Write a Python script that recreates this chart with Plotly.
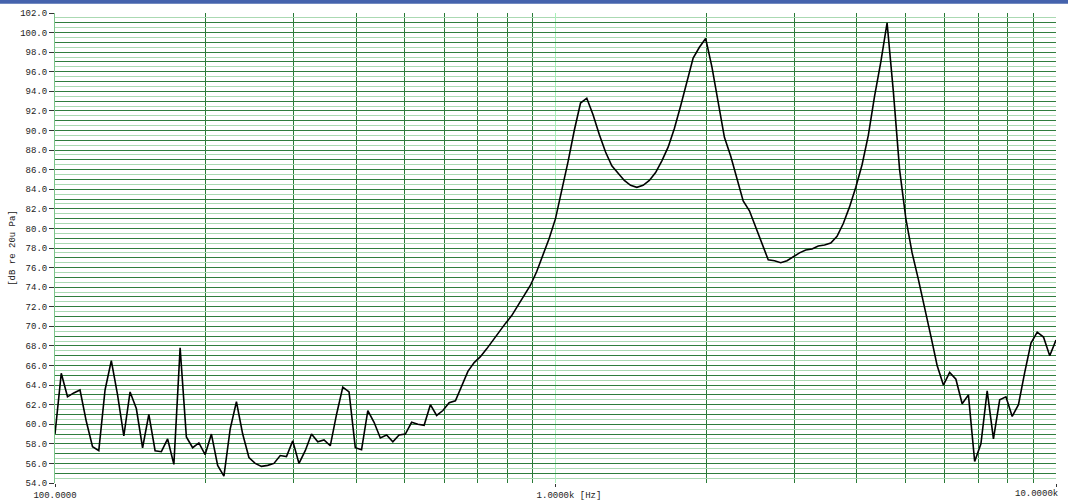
import numpy as np
import plotly.graph_objects as go

# analyser frequency bins (80 per decade, 100 Hz .. 10 kHz)
freq_hz = np.logspace(2, 4, 161)

level_db = [
    # 100-200 Hz
    59.0, 65.2, 62.8, 63.2, 63.5, 60.3, 57.7, 57.3, 63.5, 66.5,
    63.0, 58.8, 63.3, 61.6, 57.6, 61.0, 57.3, 57.2, 58.5, 55.9,
    67.8, 58.7, 57.6, 58.1, 56.9,
    # 200-300 Hz
    59.0, 55.8, 54.7, 59.5, 62.3, 59.0, 56.6, 56.0, 55.7, 55.8,
    56.0, 56.8, 56.7, 58.3,
    # 300-400 Hz
    56.0, 57.3, 59.0, 58.2, 58.4, 57.8, 61.0, 63.8, 63.3, 57.6,
    # 400-500 Hz
    57.4, 61.4, 60.2, 58.6, 58.9, 58.2, 58.9, 59.0,
    # 500-600 Hz
    60.2, 60.0, 59.9, 62.0, 60.9, 61.4,
    # 600-700 Hz
    62.2, 62.4, 64.0, 65.4, 66.3, 66.9,
    # 700 Hz-1 kHz
    67.7, 68.6, 69.5, 70.3, 71.1, 72.1, 73.2, 74.2, 75.6, 77.3,
    79.0, 81.0,
    # 1-2 kHz
    83.8, 86.8, 90.0, 92.8, 93.3, 91.6, 89.6, 87.8, 86.4, 85.6,
    84.9, 84.4, 84.2, 84.4, 84.9, 85.7, 86.9, 88.3, 90.2, 92.5,
    95.0, 97.4, 98.5, 99.4,
    # 2-5 kHz
    96.5, 92.8, 89.3, 87.4, 85.2, 82.8, 81.8, 80.2, 78.6, 76.8,
    76.7, 76.5, 76.7, 77.1, 77.5, 77.8, 77.9, 78.2, 78.3, 78.5,
    79.2, 80.5, 82.2, 84.2, 86.5, 89.5, 93.5, 97.0, 101.0, 94.0,
    86.0,
    # 5-10 kHz
    81.0, 77.5, 74.8, 72.0, 69.0, 66.0, 64.0, 65.3, 64.6, 62.1,
    63.0, 56.2, 58.0, 63.4, 58.5, 62.5, 62.8, 60.8, 62.0, 65.3,
    68.3, 69.4, 68.9, 67.0, 68.6,
]

x_tick_vals = [100, 1000, 10000]
x_tick_text = ["100.0000",
               "\u00a0" * 5 + "1.0000k [Hz]",
               ""]
x_end_label = "10.0000k"
x_minor_vals = [200, 300, 400, 500, 600, 700, 800, 900,
                2000, 3000, 4000, 5000, 6000, 7000, 8000, 9000]
y_tick_vals = list(range(54, 103, 2))
y_tick_text = ["%.1f" % v for v in y_tick_vals]
y_fine_vals = list(range(54, 103, 1))

DARK = "#2f7d3d"
LIGHT = "#aad9b2"
FONT = "Liberation Mono"

fig = go.Figure()
fig.add_trace(go.Scatter(x=freq_hz, y=level_db, mode="lines",
                         line=dict(color="black", width=1.6),
                         showlegend=False, hoverinfo="skip"))
fig.add_trace(go.Scatter(x=[None], y=[None], yaxis="y2", mode="lines",
                         showlegend=False, hoverinfo="skip"))

fig.update_layout(
    width=1068, height=504,
    margin=dict(l=55, r=12, t=13, b=21, autoexpand=False),
    paper_bgcolor="white", plot_bgcolor="white",
    font=dict(family=FONT, size=9, color="#222222"),
    xaxis=dict(
        type="log", range=[2, 4],
        tickmode="array", tickvals=x_tick_vals, ticktext=x_tick_text,
        ticks="outside", ticklen=3, tickcolor="#333333", tickwidth=1,
        ticklabeloverflow="allow",
        showgrid=True, gridcolor="#a8f0b8", gridwidth=1,
        minor=dict(tickmode="array", tickvals=x_minor_vals,
                   showgrid=True, gridcolor="#2a7a38", gridwidth=1.3,
                   ticks=""),
        showline=False, zeroline=False, automargin=False,
        tickfont=dict(family=FONT, size=9, color="#222222"),
    ),
    yaxis=dict(
        range=[54, 102],
        tickmode="array", tickvals=y_tick_vals, ticktext=y_tick_text,
        ticks="outside", ticklen=5, tickcolor="#333333", tickwidth=1,
        showgrid=True, gridcolor=DARK, gridwidth=1,
        minor=dict(dtick=0.5, tick0=54, showgrid=True,
                   gridcolor=LIGHT, gridwidth=1, ticks=""),
        showline=True, linecolor="#7cc48a", linewidth=1,
        zeroline=False, automargin=False,
        title=dict(text="[dB re 20u Pa]", standoff=3,
                   font=dict(family=FONT, size=9, color="#222222")),
        tickfont=dict(family=FONT, size=9, color="#222222"),
    ),
    yaxis2=dict(
        range=[54, 102], overlaying="y", side="left",
        tickmode="array", tickvals=y_fine_vals, showticklabels=False,
        ticks="", showgrid=True, gridcolor=DARK, gridwidth=1,
        zeroline=False, showline=False, automargin=False,
    ),
    annotations=[dict(text=x_end_label, xref="x", yref="paper",
                      x=np.log10(x_tick_vals[-1]), y=0,
                      xanchor="right", yanchor="top",
                      xshift=4, yshift=-4, showarrow=False,
                      font=dict(family=FONT, size=9, color="#222222"))],
    shapes=[dict(type="rect", xref="paper", yref="paper",
                 x0=-0.1, x1=1.1, y0=1.0195, y1=1.04,
                 fillcolor="#4563ad", line=dict(width=0), layer="above")],
)

fig.write_html("out.html",
               config={"displayModeBar": False},
               post_script="document.body.style.margin='0';"
                           "document.body.style.overflow='hidden';")
